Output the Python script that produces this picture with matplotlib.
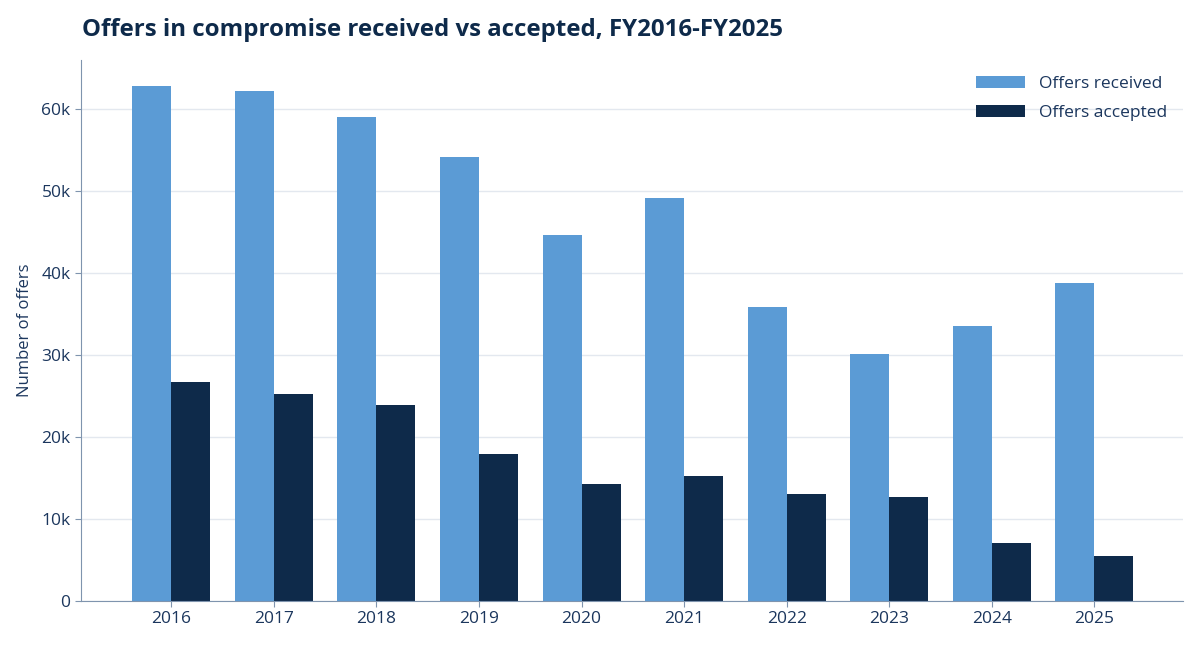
import numpy as np
import matplotlib
matplotlib.use("Agg")
import matplotlib.pyplot as plt
from matplotlib.ticker import FuncFormatter

plt.rcParams['font.family'] = ['Open Sans', 'DejaVu Sans']

years = ["2016", "2017", "2018", "2019", "2020", "2021", "2022", "2023", "2024", "2025"]
received = [62800, 62200, 59000, 54100, 44700, 49200, 35900, 30100, 33500, 38800]
accepted = [26700, 25300, 23900, 17900, 14300, 15200, 13100, 12700, 7100, 5500]

text_col = "#1b365d"
spine_col = "#7f94ae"

fig = plt.figure(figsize=(12, 6.48), dpi=100)
ax = fig.add_axes([0.0675, 0.0725, 0.918, 0.835])

x = np.arange(len(years))
w = 0.38
ax.bar(x - w / 2, received, w, color="#5b9bd5", label="Offers received", zorder=2)
ax.bar(x + w / 2, accepted, w, color="#0e2a4a", label="Offers accepted", zorder=2)

ax.set_xlim(-0.88, len(years) - 1 + 0.86)
ax.set_ylim(0, 66000)
ax.set_xticks(x)
ax.set_xticklabels(years)
ax.set_yticks(np.arange(0, 60001, 10000))
ax.yaxis.set_major_formatter(FuncFormatter(lambda v, p: "0" if v == 0 else f"{int(v/1000)}k"))
ax.tick_params(colors=text_col, labelsize=12.5, length=4)
ax.tick_params(axis='both', color=spine_col)
ax.grid(axis='y', color="#e3e8ef", linewidth=1, zorder=0)
ax.set_axisbelow(True)

for s in ["top", "right"]:
    ax.spines[s].set_visible(False)
for s in ["left", "bottom"]:
    ax.spines[s].set_color(spine_col)

ax.set_ylabel("Number of offers", color=text_col, fontsize=12, labelpad=6)
fig.text(0.068, 0.953, "Offers in compromise received vs accepted, FY2016-FY2025",
         fontsize=17.3, fontweight="bold", color="#0e2a4a", va="center")

leg = ax.legend(loc="upper right", frameon=False, fontsize=12.5, handlelength=2.8,
                labelspacing=0.75, bbox_to_anchor=(1.0, 1.0))
for t in leg.get_texts():
    t.set_color(text_col)

fig.savefig("out.png", dpi=100)
